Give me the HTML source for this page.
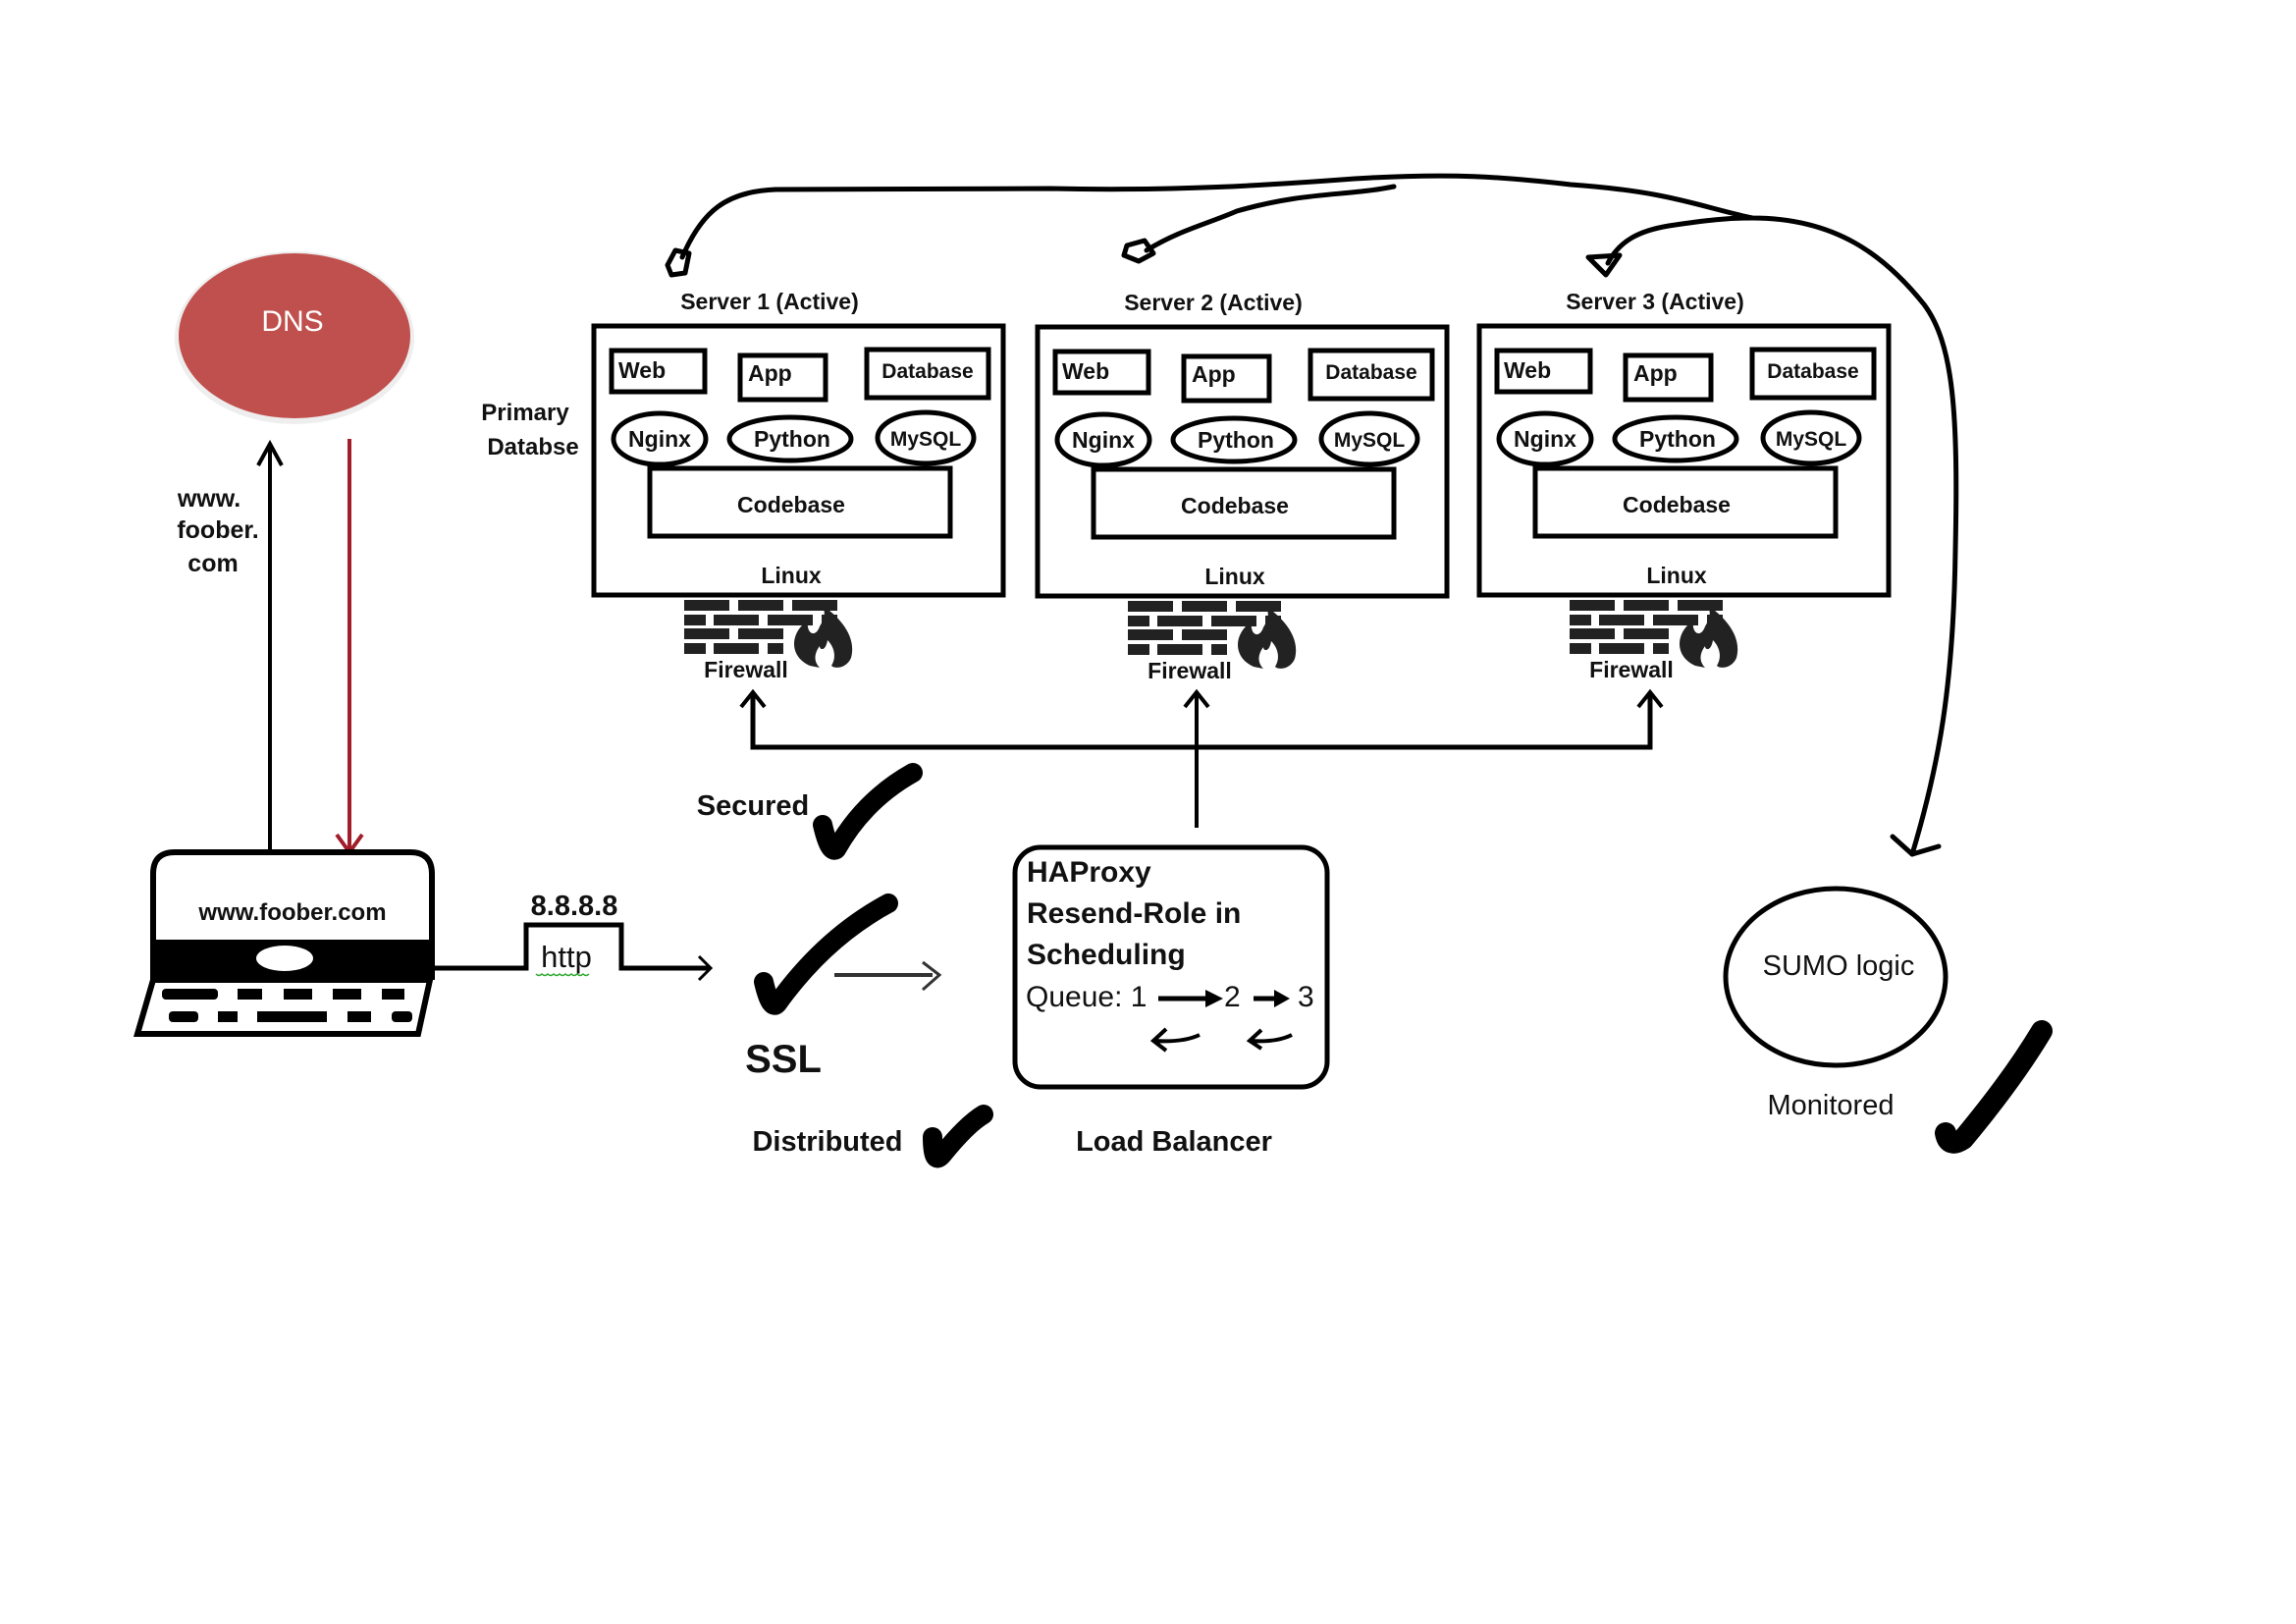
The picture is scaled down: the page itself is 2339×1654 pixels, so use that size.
<!DOCTYPE html>
<html><head><meta charset="utf-8"><style>
html,body{margin:0;padding:0;background:#fff;}
svg{display:block;}
text{font-family:"Liberation Sans Narrow","Liberation Sans",sans-serif;font-weight:bold;fill:#111;}
.b{font-size:23px;}
.db{font-size:21px;}
</style></head><body>
<svg width="2339" height="1654" viewBox="0 0 2339 1654" xmlns="http://www.w3.org/2000/svg">
<rect width="2339" height="1654" fill="#fff"/>

<!-- DNS -->
<ellipse cx="300" cy="344" rx="122" ry="88" fill="#eee"/>
<ellipse cx="300" cy="342" rx="118" ry="84" fill="#c0504d"/>
<text x="298" y="337" font-size="30" text-anchor="middle" style="fill:#fff;font-weight:normal">DNS</text>

<!-- arrows DNS -->
<line x1="275" y1="868" x2="275" y2="455" stroke="#000" stroke-width="4"/>
<path d="M263 474 L275 452 L287 474" fill="none" stroke="#000" stroke-width="4"/>
<line x1="356" y1="447" x2="356" y2="866" stroke="#a11d2a" stroke-width="4"/>
<path d="M343 850 L356 868 L369 850" fill="none" stroke="#a11d2a" stroke-width="4"/>
<text x="213" y="516" font-size="25" text-anchor="middle">www.</text>
<text x="222" y="548" font-size="25" text-anchor="middle">foober.</text>
<text x="217" y="582" font-size="25" text-anchor="middle">com</text>

<!-- Laptop -->
<path d="M156 998 L156 890 Q156 868 178 868 L418 868 Q440 868 440 890 L440 998" fill="#fff" stroke="#000" stroke-width="6"/>
<rect x="154" y="957" width="288" height="41" fill="#000"/>
<ellipse cx="290" cy="976" rx="29" ry="13" fill="#fff"/>
<path d="M156 998 L438 998 L426 1053 L140 1053 Z" fill="#fff" stroke="#000" stroke-width="6"/>
<g fill="#000">
<rect x="165" y="1007" width="57" height="11" rx="4"/><rect x="242" y="1007" width="25" height="11"/><rect x="289" y="1007" width="29" height="11"/><rect x="339" y="1007" width="29" height="11"/><rect x="389" y="1007" width="23" height="11"/>
<rect x="172" y="1030" width="30" height="11" rx="4"/><rect x="222" y="1030" width="20" height="11"/><rect x="262" y="1030" width="71" height="11"/><rect x="354" y="1030" width="24" height="11"/><rect x="399" y="1030" width="21" height="11" rx="4"/>
</g>
<text x="298" y="937" font-size="24" text-anchor="middle" style="font-family:'Liberation Sans',sans-serif">www.foober.com</text>

<!-- http line -->
<path d="M442 986 L536 986 L536 942 L633 942 L633 986 L722 986" fill="none" stroke="#000" stroke-width="5"/>
<path d="M712 974 L724 986 L712 998" fill="none" stroke="#000" stroke-width="3"/>
<text x="585" y="932" font-size="29" text-anchor="middle">8.8.8.8</text>
<text x="577" y="985" font-size="31" text-anchor="middle" style="font-weight:normal">http</text>
<path d="M546 992 q3 3 6 0 q3 3 6 0 q3 3 6 0 q3 3 6 0 q3 3 6 0 q3 3 6 0 q3 3 6 0 q3 3 6 0 q3 3 6 0" fill="none" stroke="#3a3" stroke-width="1.5"/>

<!-- checks -->
<g fill="none" stroke="#000" stroke-linecap="round" stroke-linejoin="round">
<path d="M838 840 Q845 870 852 865 Q880 815 930 787" stroke-width="20"/>
<path d="M778 1000 Q785 1030 792 1022 Q840 955 905 920" stroke-width="20"/>
<path d="M950 1158 Q950 1188 960 1176 Q985 1145 1002 1135" stroke-width="20"/>
<path d="M1982 1154 Q1985 1170 2000 1160 Q2050 1100 2080 1050" stroke-width="22"/>
</g>
<line x1="850" y1="993" x2="950" y2="993" stroke="#333" stroke-width="4"/>
<path d="M940 980 L957 993 L940 1008" fill="none" stroke="#333" stroke-width="3"/>

<text x="767" y="830" font-size="29" text-anchor="middle">Secured</text>
<text x="798" y="1092" font-size="40" text-anchor="middle" style="font-family:'Liberation Sans',sans-serif;font-weight:900">SSL</text>
<text x="843" y="1172" font-size="29" text-anchor="middle">Distributed</text>
<text x="1196" y="1172" font-size="29" text-anchor="middle">Load Balancer</text>

<!-- HAProxy -->
<rect x="1034" y="863" width="318" height="244" rx="26" fill="#fff" stroke="#000" stroke-width="5"/>
<text x="1046" y="898" font-size="30">HAProxy</text>
<text x="1046" y="940" font-size="30">Resend-Role in</text>
<text x="1046" y="982" font-size="30">Scheduling</text>
<text x="1045" y="1025" font-size="30" style="font-weight:normal">Queue: 1</text>
<text x="1247" y="1025" font-size="30" style="font-weight:normal">2</text>
<text x="1322" y="1025" font-size="30" style="font-weight:normal">3</text>
<line x1="1180" y1="1017" x2="1235" y2="1017" stroke="#000" stroke-width="5"/>
<path d="M1228 1008 L1246 1017 L1228 1026 Z" fill="#000"/>
<line x1="1277" y1="1017" x2="1305" y2="1017" stroke="#000" stroke-width="5"/>
<path d="M1298 1008 L1314 1017 L1298 1026 Z" fill="#000"/>
<path d="M1222 1054 Q1205 1062 1175 1060 M1188 1048 L1175 1060 L1188 1070" fill="none" stroke="#000" stroke-width="4"/>
<path d="M1316 1054 Q1300 1062 1273 1060 M1285 1049 L1273 1060 L1285 1068" fill="none" stroke="#000" stroke-width="4"/>

<!-- LB connectors -->
<line x1="1219" y1="843" x2="1219" y2="706" stroke="#000" stroke-width="4"/>
<path d="M767 706 L767 761 L1681 761 L1681 706" fill="none" stroke="#000" stroke-width="5"/>
<g fill="none" stroke="#000" stroke-width="4">
<path d="M755 720 L767 705 L779 720"/><path d="M1207 720 L1219 705 L1231 720"/><path d="M1669 720 L1681 705 L1693 720"/>
</g>

<text x="535" y="428" font-size="24" text-anchor="middle">Primary</text>
<text x="543" y="463" font-size="24" text-anchor="middle">Databse</text>

<!-- Servers -->
<g transform="translate(605,332)">
<rect x="0" y="0" width="417" height="274" fill="#fff" stroke="#000" stroke-width="5"/>
<rect x="18" y="25" width="95" height="42" fill="none" stroke="#000" stroke-width="5"/>
<rect x="149" y="30" width="87" height="45" fill="none" stroke="#000" stroke-width="5"/>
<rect x="278" y="24" width="124" height="49" fill="none" stroke="#000" stroke-width="5"/>
<text x="25" y="53" class="b">Web</text>
<text x="157" y="56" class="b">App</text>
<text x="340" y="53" class="db" text-anchor="middle">Database</text>
<rect x="57" y="145" width="306" height="69" fill="#fff" stroke="#000" stroke-width="5"/>
<ellipse cx="67" cy="115" rx="47" ry="26" fill="#fff" stroke="#000" stroke-width="5"/>
<ellipse cx="200" cy="115" rx="62" ry="22" fill="#fff" stroke="#000" stroke-width="5"/>
<ellipse cx="338" cy="114" rx="49" ry="26" fill="#fff" stroke="#000" stroke-width="5"/>
<text x="67" y="123" class="b" text-anchor="middle">Nginx</text>
<text x="202" y="123" class="b" text-anchor="middle">Python</text>
<text x="338" y="122" class="db" text-anchor="middle">MySQL</text>
<text x="201" y="190" class="b" text-anchor="middle">Codebase</text>
<text x="201" y="262" class="b" text-anchor="middle">Linux</text>
<text x="179" y="-17" class="b" text-anchor="middle">Server 1  (Active)</text>
<g fill="#222">
<rect x="92" y="279" width="46" height="11"/><rect x="147" y="279" width="46" height="11"/><rect x="202" y="279" width="46" height="11"/>
<rect x="92" y="294" width="22" height="11"/><rect x="122" y="294" width="46" height="11"/><rect x="177" y="294" width="46" height="11"/><rect x="232" y="294" width="16" height="11"/>
<rect x="92" y="308" width="46" height="11"/><rect x="147" y="308" width="46" height="11"/>
<rect x="92" y="323" width="22" height="11"/><rect x="122" y="323" width="46" height="11"/><rect x="177" y="323" width="16" height="11"/>
<path d="M220 346 C198 336 200 312 218 300 C216 314 226 318 230 306 C236 296 236 290 232 284 C250 296 268 316 262 338 C258 348 246 350 242 346 C248 336 244 326 238 320 C236 332 230 330 230 326 C224 334 224 342 230 348 Z"/>
</g>
<text x="155" y="358" class="b" text-anchor="middle">Firewall</text>
</g>

<g transform="translate(1057,333)">
<rect x="0" y="0" width="417" height="274" fill="#fff" stroke="#000" stroke-width="5"/>
<rect x="18" y="25" width="95" height="42" fill="none" stroke="#000" stroke-width="5"/>
<rect x="149" y="30" width="87" height="45" fill="none" stroke="#000" stroke-width="5"/>
<rect x="278" y="24" width="124" height="49" fill="none" stroke="#000" stroke-width="5"/>
<text x="25" y="53" class="b">Web</text>
<text x="157" y="56" class="b">App</text>
<text x="340" y="53" class="db" text-anchor="middle">Database</text>
<rect x="57" y="145" width="306" height="69" fill="#fff" stroke="#000" stroke-width="5"/>
<ellipse cx="67" cy="115" rx="47" ry="26" fill="#fff" stroke="#000" stroke-width="5"/>
<ellipse cx="200" cy="115" rx="62" ry="22" fill="#fff" stroke="#000" stroke-width="5"/>
<ellipse cx="338" cy="114" rx="49" ry="26" fill="#fff" stroke="#000" stroke-width="5"/>
<text x="67" y="123" class="b" text-anchor="middle">Nginx</text>
<text x="202" y="123" class="b" text-anchor="middle">Python</text>
<text x="338" y="122" class="db" text-anchor="middle">MySQL</text>
<text x="201" y="190" class="b" text-anchor="middle">Codebase</text>
<text x="201" y="262" class="b" text-anchor="middle">Linux</text>
<text x="179" y="-17" class="b" text-anchor="middle">Server 2  (Active)</text>
<g fill="#222">
<rect x="92" y="279" width="46" height="11"/><rect x="147" y="279" width="46" height="11"/><rect x="202" y="279" width="46" height="11"/>
<rect x="92" y="294" width="22" height="11"/><rect x="122" y="294" width="46" height="11"/><rect x="177" y="294" width="46" height="11"/><rect x="232" y="294" width="16" height="11"/>
<rect x="92" y="308" width="46" height="11"/><rect x="147" y="308" width="46" height="11"/>
<rect x="92" y="323" width="22" height="11"/><rect x="122" y="323" width="46" height="11"/><rect x="177" y="323" width="16" height="11"/>
<path d="M220 346 C198 336 200 312 218 300 C216 314 226 318 230 306 C236 296 236 290 232 284 C250 296 268 316 262 338 C258 348 246 350 242 346 C248 336 244 326 238 320 C236 332 230 330 230 326 C224 334 224 342 230 348 Z"/>
</g>
<text x="155" y="358" class="b" text-anchor="middle">Firewall</text>
</g>

<g transform="translate(1507,332)">
<rect x="0" y="0" width="417" height="274" fill="#fff" stroke="#000" stroke-width="5"/>
<rect x="18" y="25" width="95" height="42" fill="none" stroke="#000" stroke-width="5"/>
<rect x="149" y="30" width="87" height="45" fill="none" stroke="#000" stroke-width="5"/>
<rect x="278" y="24" width="124" height="49" fill="none" stroke="#000" stroke-width="5"/>
<text x="25" y="53" class="b">Web</text>
<text x="157" y="56" class="b">App</text>
<text x="340" y="53" class="db" text-anchor="middle">Database</text>
<rect x="57" y="145" width="306" height="69" fill="#fff" stroke="#000" stroke-width="5"/>
<ellipse cx="67" cy="115" rx="47" ry="26" fill="#fff" stroke="#000" stroke-width="5"/>
<ellipse cx="200" cy="115" rx="62" ry="22" fill="#fff" stroke="#000" stroke-width="5"/>
<ellipse cx="338" cy="114" rx="49" ry="26" fill="#fff" stroke="#000" stroke-width="5"/>
<text x="67" y="123" class="b" text-anchor="middle">Nginx</text>
<text x="202" y="123" class="b" text-anchor="middle">Python</text>
<text x="338" y="122" class="db" text-anchor="middle">MySQL</text>
<text x="201" y="190" class="b" text-anchor="middle">Codebase</text>
<text x="201" y="262" class="b" text-anchor="middle">Linux</text>
<text x="179" y="-17" class="b" text-anchor="middle">Server 3  (Active)</text>
<g fill="#222">
<rect x="92" y="279" width="46" height="11"/><rect x="147" y="279" width="46" height="11"/><rect x="202" y="279" width="46" height="11"/>
<rect x="92" y="294" width="22" height="11"/><rect x="122" y="294" width="46" height="11"/><rect x="177" y="294" width="46" height="11"/><rect x="232" y="294" width="16" height="11"/>
<rect x="92" y="308" width="46" height="11"/><rect x="147" y="308" width="46" height="11"/>
<rect x="92" y="323" width="22" height="11"/><rect x="122" y="323" width="46" height="11"/><rect x="177" y="323" width="16" height="11"/>
<path d="M220 346 C198 336 200 312 218 300 C216 314 226 318 230 306 C236 296 236 290 232 284 C250 296 268 316 262 338 C258 348 246 350 242 346 C248 336 244 326 238 320 C236 332 230 330 230 326 C224 334 224 342 230 348 Z"/>
</g>
<text x="155" y="358" class="b" text-anchor="middle">Firewall</text>
</g>

<!-- monitoring curves -->
<g fill="none" stroke="#000" stroke-width="5" stroke-linecap="round" stroke-linejoin="round">
<path d="M695 262 C715 215 740 195 790 193 L1070 192 C1200 195 1300 188 1380 182 C1480 176 1530 180 1600 188 C1700 195 1730 210 1785 222 C1870 222 1920 260 1960 310 C1990 350 1995 420 1992 560 C1990 700 1975 780 1948 870"/>
<path d="M1928 852 L1948 870 L1975 862"/>
<path d="M1168 255 C1200 235 1230 228 1260 215 C1330 195 1370 200 1420 190"/>
<path d="M1638 268 C1650 245 1670 235 1700 230 C1740 224 1760 222 1785 222"/>
<path d="M688 255 L702 258 L698 278 L684 280 L680 270 Z"/>
<path d="M1148 250 L1166 245 L1175 258 L1160 266 L1145 260 Z"/>
<path d="M1618 262 L1650 260 L1636 280 Z"/>
</g>

<!-- SUMO -->
<ellipse cx="1870" cy="995" rx="112" ry="90" fill="#fff" stroke="#000" stroke-width="5"/>
<text x="1873" y="993" font-size="29" text-anchor="middle" style="font-family:'Liberation Sans',sans-serif;font-weight:normal">SUMO logic</text>
<text x="1865" y="1135" font-size="29" text-anchor="middle" style="font-family:'Liberation Sans',sans-serif;font-weight:normal">Monitored</text>
</svg>
</body></html>
